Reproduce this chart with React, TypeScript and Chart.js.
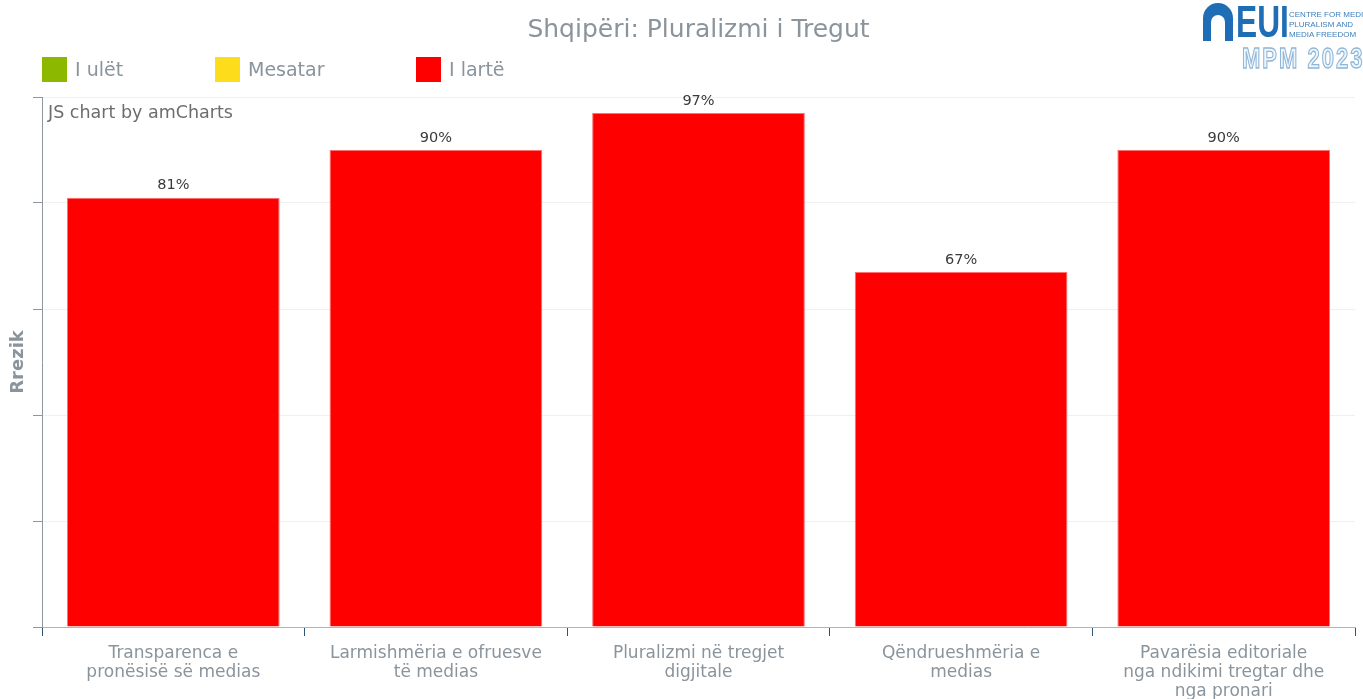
import React, { useEffect, useRef } from "react";
import { Chart, registerables } from "chart.js";

Chart.register(...registerables);

const chartTitle = "Shqipëri: Pluralizmi i Tregut";
const categories: string[][] = [
  ["Transparenca e", "pronësisë së medias"],
  ["Larmishmëria e ofruesve", "të medias"],
  ["Pluralizmi në tregjet", "digjitale"],
  ["Qëndrueshmëria e", "medias"],
  ["Pavarësia editoriale", "nga ndikimi tregtar dhe", "nga pronari"],
];
const riskValues = [81, 90, 97, 67, 90];
const legendLabels = ["I ulët", "Mesatar", "I lartë"];
const legendColors = ["#8db800", "#fddc1c", "#ff0000"];
const yAxisTitle = "Rrezik";
const watermark = "JS chart by amCharts";

const FONT = '"DejaVu Sans", Verdana, sans-serif';
const GRAY = "#8a949c";

function riskColor(v: number): string {
  if (v > 66) return legendColors[2];
  if (v > 33) return legendColors[1];
  return legendColors[0];
}

const valueLabels = {
  id: "valueLabels",
  afterDatasetsDraw(chart: any) {
    const ctx = chart.ctx;
    const meta = chart.getDatasetMeta(0);
    ctx.save();
    ctx.font = `14.5px ${FONT}`;
    ctx.fillStyle = "#3a3a3a";
    ctx.textAlign = "center";
    ctx.textBaseline = "middle";
    meta.data.forEach((bar: any, i: number) => {
      ctx.fillText(`${riskValues[i]}%`, bar.x, bar.y - 12);
    });
    ctx.restore();
  },
};

export default function App() {
  const canvasRef = useRef<HTMLCanvasElement | null>(null);

  useEffect(() => {
    const chart = new Chart(canvasRef.current as HTMLCanvasElement, {
      type: "bar",
      data: {
        labels: categories,
        datasets: [
          {
            label: yAxisTitle,
            data: riskValues,
            backgroundColor: riskValues.map(riskColor),
            borderColor: "#ff7070",
            borderWidth: 1,
            borderSkipped: "bottom",
            categoryPercentage: 1,
            barPercentage: 0.81,
          },
        ],
      },
      options: {
        animation: false,
        responsive: true,
        maintainAspectRatio: false,
        layout: { padding: { left: 0, right: 8, top: 97, bottom: 0 } },
        plugins: {
          legend: { display: false },
          title: { display: false },
          tooltip: { enabled: false },
        },
        scales: {
          x: {
            offset: true,
            grid: {
              offset: true,
              drawOnChartArea: false,
              drawTicks: true,
              tickLength: 9,
              tickColor: "#2f5475",
            },
            border: { color: "#a5b8c8", width: 1 },
            ticks: {
              color: GRAY,
              font: { family: FONT, size: 17, lineHeight: 1.118 },
              padding: 8,
              maxRotation: 0,
              autoSkip: false,
            },
            afterFit: (scale: any) => {
              scale.height = 72;
            },
          },
          y: {
            min: 0,
            max: 100,
            ticks: { stepSize: 20, display: false },
            grid: {
              color: "#f0f0f0",
              drawTicks: true,
              tickLength: 9,
              tickColor: "#8e979f",
            },
            border: { color: "#8e979f", width: 1 },
            title: {
              display: true,
              text: yAxisTitle,
              color: GRAY,
              font: { family: FONT, size: 18, weight: "bold" },
              padding: { top: 8, bottom: 0 },
            },
            afterFit: (scale: any) => {
              scale.width = 42;
            },
          },
        },
      },
      plugins: [valueLabels],
    } as any);
    return () => chart.destroy();
  }, []);

  const legendLefts = [42, 215, 416];

  return (
    <div
      style={{
        position: "fixed",
        left: 0,
        top: 0,
        width: 1363,
        height: 699,
        background: "#fff",
        fontFamily: FONT,
        overflow: "hidden",
      }}
    >
      <canvas ref={canvasRef} style={{ position: "absolute", left: 0, top: 0 }} />
      <div
        style={{
          position: "absolute",
          left: 42,
          width: 1313,
          top: 13,
          lineHeight: "32px",
          textAlign: "center",
          fontSize: 25,
          color: GRAY,
        }}
      >
        {chartTitle}
      </div>
      {legendLabels.map((lab, i) => (
        <div
          key={lab}
          style={{ position: "absolute", left: legendLefts[i], top: 57, height: 25, display: "flex", alignItems: "center" }}
        >
          <div style={{ width: 25, height: 25, background: legendColors[i] }} />
          <div style={{ marginLeft: 8, fontSize: 19, color: GRAY, lineHeight: "25px" }}>{lab}</div>
        </div>
      ))}
      <div style={{ position: "absolute", left: 48, top: 101, fontSize: 17.5, color: "#6d6d6d", lineHeight: "22px" }}>
        {watermark}
      </div>
      {/* logo */}
      <div style={{ position: "absolute", left: 1203, top: 3, width: 160, height: 70 }}>
        <div
          style={{
            position: "absolute",
            left: 0,
            top: 0,
            width: 30,
            height: 38,
            background: "#1f6db5",
            borderRadius: "15px 15px 0 0",
          }}
        >
          <div
            style={{
              position: "absolute",
              left: 8,
              top: 12,
              width: 14,
              height: 26,
              background: "#fff",
              borderRadius: "7px 7px 0 0",
            }}
          />
        </div>
        <div
          style={{
            position: "absolute",
            left: 33,
            top: -5,
            fontSize: 44,
            fontWeight: "bold",
            color: "#1f6db5",
            lineHeight: "48px",
            transform: "scaleX(0.72)",
            transformOrigin: "left top",
            fontFamily: '"Liberation Sans", sans-serif',
          }}
        >
          EUI
        </div>
        <div
          style={{
            position: "absolute",
            left: 86,
            top: 7,
            fontSize: 8,
            lineHeight: "10px",
            color: "#3d7fbd",
            whiteSpace: "nowrap",
            fontFamily: '"Liberation Sans", sans-serif',
          }}
        >
          CENTRE FOR MEDIA
          <br />
          PLURALISM AND
          <br />
          MEDIA FREEDOM
        </div>
        <div
          style={{
            position: "absolute",
            left: 39,
            top: 42,
            fontSize: 22,
            fontWeight: "bold",
            color: "#eef5fb",
            WebkitTextStroke: "1px #8db6d8",
            lineHeight: "22px",
            letterSpacing: 2,
            whiteSpace: "nowrap",
            transform: "scaleY(1.3)",
            transformOrigin: "left top",
            fontFamily: '"Liberation Sans", sans-serif',
          }}
        >
          MPM 2023
        </div>
      </div>
    </div>
  );
}
